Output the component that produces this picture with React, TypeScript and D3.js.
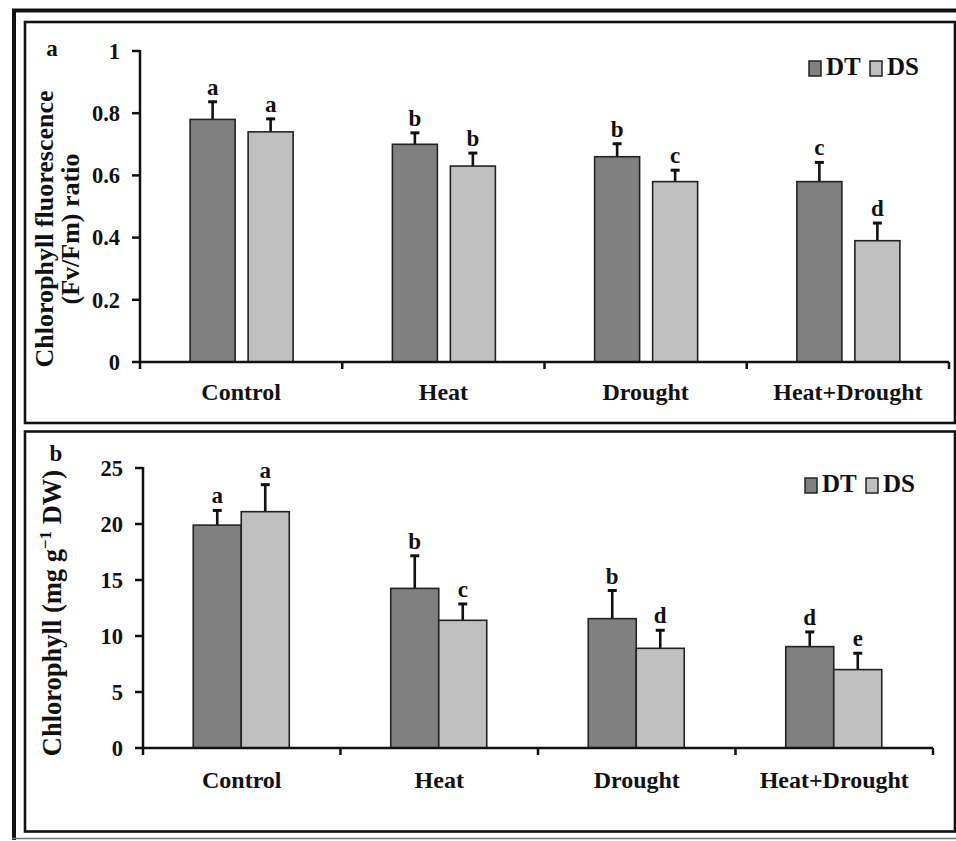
import React from "react";
import * as d3 from "d3";

// Treatments along the x axis
const categories = ["Control", "Heat", "Drought", "Heat+Drought"];
const seriesNames = ["DT", "DS"];

// Panel a: chlorophyll fluorescence (Fv/Fm)
const fvfmDT = [0.78, 0.7, 0.66, 0.58];
const fvfmDS = [0.74, 0.63, 0.58, 0.39];
const fvfmErrDT = [0.06, 0.04, 0.045, 0.065];
const fvfmErrDS = [0.045, 0.045, 0.04, 0.06];
const fvfmLetDT = ["a", "b", "b", "c"];
const fvfmLetDS = ["a", "b", "c", "d"];
const fvfmTicks = [0, 0.2, 0.4, 0.6, 0.8, 1];
const fvfmTickLabels = ["0", "0.2", "0.4", "0.6", "0.8", "1"];

// Panel b: chlorophyll content (mg g-1 DW)
const chlDT = [19.9, 14.25, 11.55, 9.05];
const chlDS = [21.1, 11.4, 8.9, 7.0];
const chlErrDT = [1.4, 3.0, 2.6, 1.4];
const chlErrDS = [2.5, 1.55, 1.7, 1.55];
const chlLetDT = ["a", "b", "b", "d"];
const chlLetDS = ["a", "c", "d", "e"];
const chlTicks = [0, 5, 10, 15, 20, 25];
const chlTickLabels = ["0", "5", "10", "15", "20", "25"];

const colors = ["#808080", "#c0c0c0"];
const FONT = "'Liberation Serif', 'Times New Roman', serif";

type PanelProps = {
  tag: string;
  x0: number;
  x1: number;
  yBottom: number;
  yTop: number;
  yMax: number;
  ticks: number[];
  tickLabels: string[];
  dt: number[];
  ds: number[];
  errDT: number[];
  errDS: number[];
  letDT: string[];
  letDS: string[];
  groupHalf: [number, number];
  barGap: number;
  legendX: number;
  legendY: number;
  tagPos: [number, number];
  catLabelY: number;
  title: React.ReactNode;
};

function Panel(p: PanelProps) {
  const x = d3.scaleBand<string>().domain(categories).range([p.x0, p.x1]).padding(0);
  const y = d3.scaleLinear().domain([0, p.yMax]).range([p.yBottom, p.yTop]);
  const bounds = [p.x0, ...categories.map((c) => (x(c) as number) + x.bandwidth())];
  const series = [
    { vals: p.dt, errs: p.errDT, lets: p.letDT, color: colors[0] },
    { vals: p.ds, errs: p.errDS, lets: p.letDS, color: colors[1] },
  ];
  return (
    <g fontFamily={FONT} fontWeight="bold" fill="#111">
      {categories.map((c, i) => {
        const cx = (x(c) as number) + x.bandwidth() / 2;
        const sub = d3
          .scaleBand<string>()
          .domain(seriesNames)
          .range([cx - p.groupHalf[0], cx + p.groupHalf[1]])
          .paddingInner(p.barGap)
          .paddingOuter(0);
        return (
          <g key={c}>
            {series.map((s, k) => {
              const bx = sub(seriesNames[k]) as number;
              const bw = sub.bandwidth();
              const v = s.vals[i];
              const top = y(v + s.errs[i]);
              const mid = bx + bw / 2;
              return (
                <g key={k}>
                  <line x1={mid} x2={mid} y1={y(v)} y2={top} stroke="#111" strokeWidth={2.6} />
                  <line x1={mid - 4.5} x2={mid + 4.5} y1={top + 1} y2={top + 1} stroke="#111" strokeWidth={3} />
                  <rect x={bx} y={y(v)} width={bw} height={y(0) - y(v)} fill={s.color} stroke="#222" strokeWidth={1.6} />
                  <text x={mid} y={top - 6} textAnchor="middle" fontSize={23}>
                    {s.lets[i]}
                  </text>
                </g>
              );
            })}
            <text x={cx} y={p.catLabelY} textAnchor="middle" fontSize={24}>
              {c}
            </text>
          </g>
        );
      })}
      {/* y axis */}
      <line x1={p.x0} x2={p.x0} y1={p.yTop - 1} y2={p.yBottom} stroke="#111" strokeWidth={2.5} />
      {p.ticks.map((t, i) => (
        <g key={t}>
          <line x1={p.x0 - 8} x2={p.x0} y1={y(t)} y2={y(t)} stroke="#111" strokeWidth={2.5} />
          <text x={p.x0 - 20} y={y(t)} dy="0.35em" textAnchor="end" fontSize={22.5}>
            {p.tickLabels[i]}
          </text>
        </g>
      ))}
      {/* x axis */}
      <line x1={p.x0} x2={p.x1} y1={p.yBottom} y2={p.yBottom} stroke="#111" strokeWidth={2.5} />
      {bounds.map((b, i) => (
        <line key={i} x1={b} x2={b} y1={p.yBottom} y2={p.yBottom + 7} stroke="#111" strokeWidth={2.5} />
      ))}
      {/* legend */}
      {seriesNames.map((n, k) => (
        <g key={n} transform={`translate(${p.legendX + k * 61},${p.legendY})`}>
          <rect x={0} y={-14} width={12} height={15} fill={colors[k]} stroke="#222" strokeWidth={1.5} />
          <text x={17} y={0} fontSize={25}>
            {n}
          </text>
        </g>
      ))}
      <text x={p.tagPos[0]} y={p.tagPos[1]} textAnchor="middle" fontSize={23}>
        {p.tag}
      </text>
      {p.title}
    </g>
  );
}

export default function App() {
  return (
    <svg
      width={956}
      height={841}
      viewBox="0 0 956 841"
      style={{ position: "absolute", left: 0, top: 0, background: "#fff" }}
    >
      <rect x={0} y={0} width={956} height={841} fill="#fff" />
      {/* outer frame */}
      <line x1={12} x2={956} y1={10.5} y2={10.5} stroke="#111" strokeWidth={4} />
      <line x1={14} x2={14} y1={9} y2={840} stroke="#111" strokeWidth={4} />
      <line x1={12} x2={956} y1={838.5} y2={838.5} stroke="#777" strokeWidth={1.5} />
      {/* panel frames */}
      <rect x={25} y={22} width={930} height={401} fill="none" stroke="#111" strokeWidth={2.6} />
      <rect x={25} y={431.5} width={930} height={400} fill="none" stroke="#111" strokeWidth={2.6} />

      <Panel
        tag="a"
        x0={140}
        x1={949}
        yBottom={362}
        yTop={51}
        yMax={1}
        ticks={fvfmTicks}
        tickLabels={fvfmTickLabels}
        dt={fvfmDT}
        ds={fvfmDS}
        errDT={fvfmErrDT}
        errDS={fvfmErrDS}
        letDT={fvfmLetDT}
        letDS={fvfmLetDS}
        groupHalf={[51, 52]}
        barGap={13 / 58}
        legendX={809}
        legendY={75}
        tagPos={[52, 56]}
        catLabelY={400}
        title={
          <text transform="translate(0,229) rotate(-90)" textAnchor="middle" fontSize={26}>
            <tspan x={0} y={53}>Chlorophyll fluorescence</tspan>
            <tspan x={0} y={79}>(Fv/Fm) ratio</tspan>
          </text>
        }
      />
      <Panel
        tag="b"
        x0={143}
        x1={933}
        yBottom={748}
        yTop={468}
        yMax={25}
        ticks={chlTicks}
        tickLabels={chlTickLabels}
        dt={chlDT}
        ds={chlDS}
        errDT={chlErrDT}
        errDS={chlErrDS}
        letDT={chlLetDT}
        letDS={chlLetDS}
        groupHalf={[48.5, 47.5]}
        barGap={0}
        legendX={805}
        legendY={492}
        tagPos={[56, 461]}
        catLabelY={788}
        title={
          <text transform="translate(61,613) rotate(-90)" textAnchor="middle" fontSize={26.5}>
            Chlorophyll (mg g
            <tspan dy={-10} fontSize={17}>−1</tspan>
            <tspan dy={10}> DW)</tspan>
          </text>
        }
      />
    </svg>
  );
}
